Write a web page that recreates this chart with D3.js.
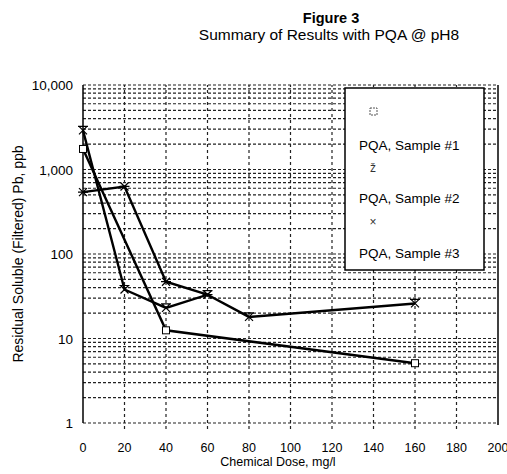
<!DOCTYPE html>
<html>
<head>
<meta charset="utf-8">
<script src="https://cdn.jsdelivr.net/npm/d3@7"></script>
<style>
  body { margin: 0; background: #fff; }
  svg { font-family: "Liberation Sans", Arial, sans-serif; }
</style>
</head>
<body>
<script>
// data
const sample1Dose = [0, 40, 160];
const sample1Pb = [1750, 12.5, 5.1];
const sample2Dose = [0, 20, 40, 60, 80, 160];
const sample2Pb = [2900, 38, 23, 33, 18, 26];
const sample3Dose = [0, 20, 40, 60];
const sample3Pb = [540, 630, 47, 33];
const seriesNames = ["PQA, Sample #1", "PQA, Sample #2", "PQA, Sample #3"];
const xTicks = [0, 20, 40, 60, 80, 100, 120, 140, 160, 180, 200];
const yTicks = [1, 10, 100, 1000, 10000];

const width = 507, height = 474;
const margin = { top: 85, right: 9, bottom: 51, left: 83 };

const svg = d3.select("body").append("svg")
    .attr("width", width)
    .attr("height", height);

const x = d3.scaleLinear().domain([0, 200]).range([margin.left, width - margin.right]);
const y = d3.scaleLog().domain([1, 10000]).range([height - margin.bottom, margin.top]);

// gridlines - every minor log step and every 20 on x
const minorY = [];
for (let d = 1; d < 10000; d *= 10) {
    for (let k = 1; k <= 9; k++) minorY.push(d * k);
}
minorY.push(10000);

svg.append("g").selectAll("line")
    .data(minorY)
    .join("line")
    .attr("x1", x(0)).attr("x2", x(200))
    .attr("y1", d => y(d)).attr("y2", d => y(d))
    .attr("stroke", "#222")
    .attr("stroke-width", 1.2)
    .attr("stroke-dasharray", "3,2");

svg.append("g").selectAll("line")
    .data(xTicks.slice(1, -1))
    .join("line")
    .attr("x1", d => x(d)).attr("x2", d => x(d))
    .attr("y1", y(1) + 6).attr("y2", y(10000))
    .attr("stroke", "#222")
    .attr("stroke-width", 1.2)
    .attr("stroke-dasharray", "3,3");

// left axis line (solid) and right border
svg.append("line")
    .attr("x1", x(0)).attr("x2", x(0))
    .attr("y1", y(1)).attr("y2", y(10000))
    .attr("stroke", "#000").attr("stroke-width", 1.5);
svg.append("line")
    .attr("x1", x(200)).attr("x2", x(200))
    .attr("y1", y(1) + 2).attr("y2", y(10000))
    .attr("stroke", "#000").attr("stroke-width", 1.5);

// tick labels
svg.append("g").selectAll("text")
    .data(yTicks)
    .join("text")
    .attr("x", x(0) - 10)
    .attr("y", d => y(d) + 5)
    .attr("text-anchor", "end")
    .attr("font-size", 13.5)
    .text(d => d3.format(",")(d));

svg.append("g").selectAll("text")
    .data(xTicks)
    .join("text")
    .attr("x", d => x(d))
    .attr("y", y(1) + 29)
    .attr("text-anchor", "middle")
    .attr("font-size", 12.5)
    .text(d => d);

// titles
svg.append("text")
    .attr("x", 331).attr("y", 23)
    .attr("text-anchor", "middle")
    .attr("font-size", 14.5)
    .attr("font-weight", "bold")
    .text("Figure 3");
svg.append("text")
    .attr("x", 329).attr("y", 40)
    .attr("text-anchor", "middle")
    .attr("font-size", 15.5)
    .text("Summary of Results with PQA @ pH8");

svg.append("text")
    .attr("x", 278).attr("y", 466)
    .attr("text-anchor", "middle")
    .attr("font-size", 12.5)
    .text("Chemical Dose, mg/l");
svg.append("text")
    .attr("transform", "translate(23,254) rotate(-90)")
    .attr("text-anchor", "middle")
    .attr("font-size", 14)
    .text("Residual Soluble (Filtered) Pb, ppb");

// series
const series = [
    { dose: sample1Dose, pb: sample1Pb, mark: "square" },
    { dose: sample2Dose, pb: sample2Pb, mark: "barx" },
    { dose: sample3Dose, pb: sample3Pb, mark: "x" }
];

const line = d3.line().x(d => x(d[0])).y(d => y(d[1]));

function drawMark(g, mark, cx, cy) {
    if (mark === "square") {
        g.append("rect")
            .attr("x", cx - 3.5).attr("y", cy - 3.5)
            .attr("width", 7).attr("height", 7)
            .attr("fill", "#fff").attr("stroke", "#000").attr("stroke-width", 1);
    } else {
        g.append("path")
            .attr("d", `M${cx - 4},${cy - 4}L${cx + 4},${cy + 4}M${cx + 4},${cy - 4}L${cx - 4},${cy + 4}` +
                (mark === "barx" ? `M${cx - 5},${cy - 4}L${cx + 5},${cy - 4}` : `M${cx - 5},${cy}L${cx + 5},${cy}`))
            .attr("fill", "none").attr("stroke", "#000").attr("stroke-width", 1.2);
    }
}

series.forEach(s => {
    const pts = s.dose.map((d, i) => [d, s.pb[i]]);
    svg.append("path")
        .datum(pts)
        .attr("d", line)
        .attr("fill", "none")
        .attr("stroke", "#000")
        .attr("stroke-width", 2.4);
    const g = svg.append("g");
    pts.forEach(p => drawMark(g, s.mark, x(p[0]), y(p[1])));
});

// legend box
const lg = svg.append("g");
lg.append("rect")
    .attr("x", 345).attr("y", 88)
    .attr("width", 139).attr("height", 182)
    .attr("fill", "#fff")
    .attr("stroke", "#000").attr("stroke-width", 1.5);

const legendMarkY = [112, 168, 222];
const legendTextY = [150, 203, 258];
seriesNames.forEach((name, i) => {
    const g = lg.append("g");
    if (i === 0) {
        g.append("rect")
            .attr("x", 370).attr("y", legendMarkY[i] - 4)
            .attr("width", 7).attr("height", 7)
            .attr("fill", "none").attr("stroke", "#555").attr("stroke-width", 1)
            .attr("stroke-dasharray", "2,1");
    } else {
        g.append("text")
            .attr("x", 373).attr("y", legendMarkY[i] + 4)
            .attr("text-anchor", "middle")
            .attr("font-size", 12)
            .attr("fill", "#333")
            .text(i === 1 ? "\u017e" : "\u00d7");
    }
    lg.append("text")
        .attr("x", 359).attr("y", legendTextY[i])
        .attr("font-size", 13.5)
        .text(name);
});
</script>
</body>
</html>
